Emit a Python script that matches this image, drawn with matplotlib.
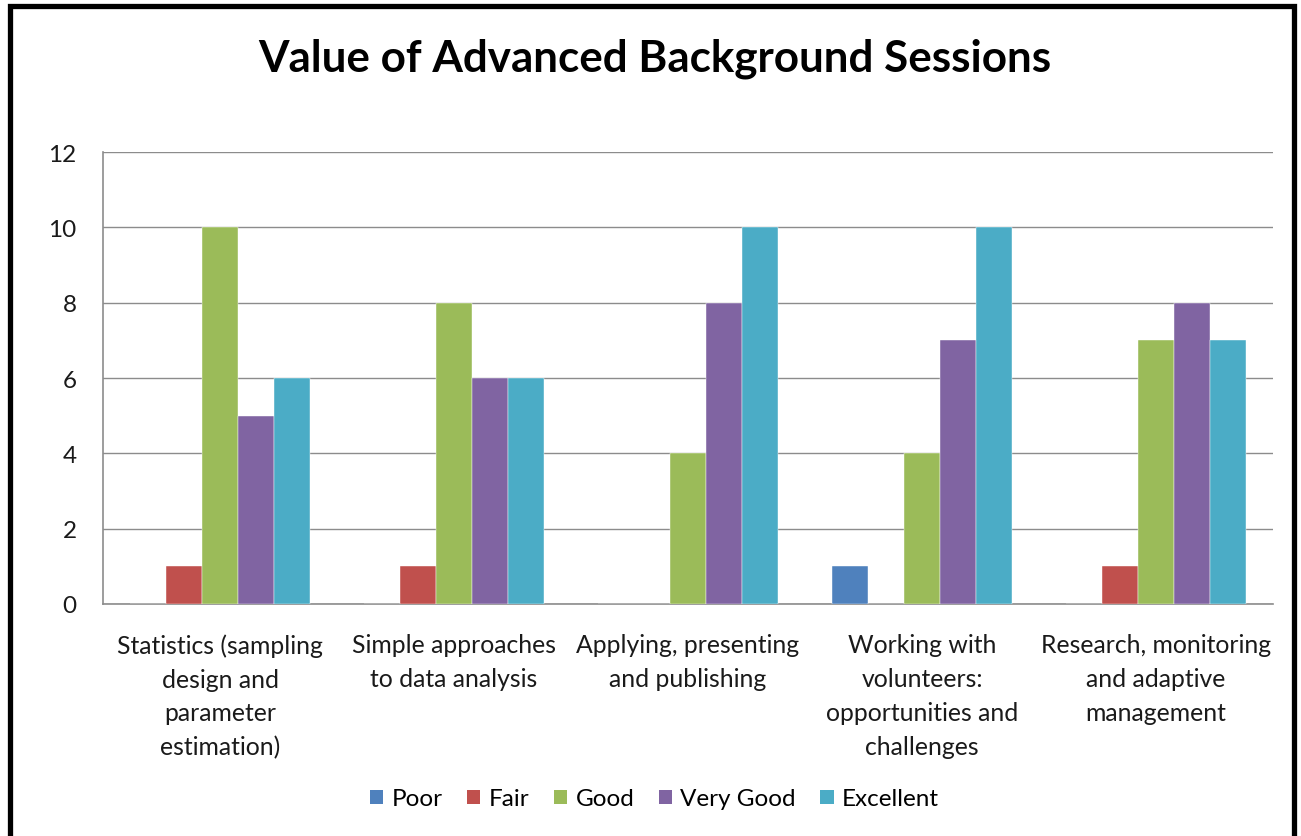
import matplotlib
matplotlib.use("Agg")
import matplotlib.pyplot as plt
import numpy as np
from matplotlib.patches import Rectangle, Patch

plt.rcParams['font.family'] = ['Lato', 'DejaVu Sans']

categories = ["Statistics (sampling\ndesign and\nparameter\nestimation)",
              "Simple approaches\nto data analysis",
              "Applying, presenting\nand publishing",
              "Working with\nvolunteers:\nopportunities and\nchallenges",
              "Research, monitoring\nand adaptive\nmanagement"]
series_names = ["Poor", "Fair", "Good", "Very Good", "Excellent"]
poor = [0, 0, 0, 1, 0]
fair = [1, 1, 0, 0, 1]
good = [10, 8, 4, 4, 7]
very_good = [5, 6, 8, 7, 8]
excellent = [6, 6, 10, 10, 7]
yticks = [0, 2, 4, 6, 8, 10, 12]
colors = ["#4F81BD", "#C0504D", "#9BBB59", "#8064A2", "#4BACC6"]

series = [poor, fair, good, very_good, excellent]

fig = plt.figure(figsize=(13.01, 8.37), dpi=100)
ax = fig.add_axes([103/1301, 1-605/837, (1273-103)/1301, (605-153)/837])

x = np.arange(len(categories))
w = 0.154
for i, (vals, c) in enumerate(zip(series, colors)):
    ax.bar(x + (i - 2) * w, vals, width=w, color=c, edgecolor='white',
           linewidth=0.3, zorder=3)

ax.set_xlim(-0.5, len(categories) - 0.5)
ax.set_ylim(0, 12)
ax.set_yticks(yticks)
ax.set_yticklabels([str(t) for t in yticks], fontsize=17.5, color='#1a1a1a')
ax.yaxis.grid(True, color='#8c8c8c', linewidth=1.0, zorder=0)
ax.set_axisbelow(True)
ax.tick_params(axis='y', length=0, pad=19)
ax.tick_params(axis='x', length=0, pad=21)
ax.set_xticks(x)
ax.set_xticklabels(categories, fontsize=17.8, color='#1a1a1a', linespacing=1.57,
                   va='top')
for s in ['top', 'right']:
    ax.spines[s].set_visible(False)
for s in ['left', 'bottom']:
    ax.spines[s].set_color('#8c8c8c')
    ax.spines[s].set_linewidth(1.2)

fig.text(0.503, 1 - 59/837, "Value of Advanced Background Sessions",
         ha='center', va='center', fontsize=31.7, fontweight='bold', color='black')

handles = [Patch(facecolor=c, edgecolor='none') for c in colors]
fig.legend(handles, series_names, loc='center', bbox_to_anchor=(0.503, 1 - 800/837),
           ncol=5, frameon=False, fontsize=17.5, handlelength=0.55, handleheight=0.55,
           handletextpad=0.35, columnspacing=1.0)

fig.patches.append(Rectangle((9.8/1301, -0.02), (1294-9.8)/1301, 1.02 - 6.5/837,
                             transform=fig.transFigure, fill=False,
                             edgecolor='black', linewidth=3.8))

fig.savefig("out.png", dpi=100, facecolor='white')
